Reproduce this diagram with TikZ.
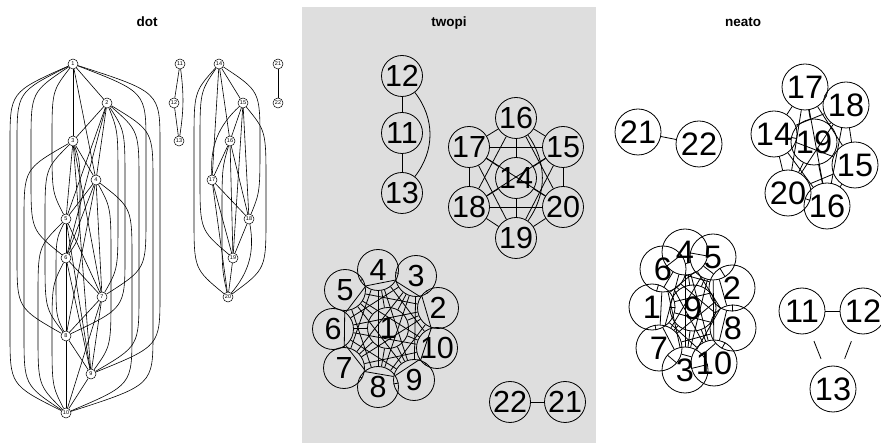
\documentclass[tikz,border=0pt]{standalone}
\usepackage{fontspec}
\setmainfont{Liberation Sans}
\usetikzlibrary{calc}
\definecolor{panelgray}{RGB}{222,222,222}
\pgfdeclarelayer{bg}
\pgfdeclarelayer{edges}
\pgfsetlayers{bg,edges,main}
\begin{document}
\begin{tikzpicture}[x=1pt,y=-1pt,
  dotn/.style={circle,draw,line width=0.5pt,minimum size=10pt,inner sep=0pt,fill=white,font=\fontsize{5.5}{6}\selectfont},
  twon/.style={circle,draw,line width=0.8pt,minimum size=41pt,inner sep=0pt,font=\fontsize{30.5}{30}\selectfont},
  neon/.style={circle,draw,line width=0.8pt,minimum size=46pt,inner sep=0pt,font=\fontsize{32.5}{32}\selectfont},
  dotedge/.style={line width=0.6pt},
  netedge/.style={line width=0.8pt},
  ttl/.style={font=\bfseries\fontsize{13.5}{14}\selectfont,anchor=base}]
\useasboundingbox (0,0) rectangle (881,443);
\begin{pgfonlayer}{bg}
  \fill[panelgray] (302,7) rectangle (596,443);
\end{pgfonlayer}

% titles
\node[ttl] (tdot) at (147,27) {dot};
\node[ttl] (ttwopi) at (449,27) {twopi};
\node[ttl] (tneato) at (743,27) {neato};

% ---------------- dot ----------------
\foreach \n/\x/\y in {1/73/64,2/107/103,3/73/141,4/96/180,5/66/219,6/66/258,7/102/297,8/66/336,9/91/374,10/66/413,
  11/180/64,12/174/103,13/179/141,
  14/219/64,15/243/103,16/230/141,17/212/180,18/249/219,19/233/258,20/228/297,
  21/278/64,22/278/103}
  \node[dotn] (d\n) at (\x,\y) {\n};

\begin{pgfonlayer}{edges}
\foreach \a/\b in {1/2,2/3,3/4,4/5,5/6,6/7,7/8,8/9,9/10,1/3,2/4,3/5,4/6,5/7,6/8,7/9,8/10,
  1/4,2/5,4/7,6/9,7/10,2/6,3/7,4/8,5/9,3/9,
  14/15,15/16,16/17,17/18,18/19,19/20,14/16,16/18,17/19,14/17,15/18,16/19,17/20,15/19,
  11/12,12/13,21/22}
  \draw[dotedge] (d\a) -- (d\b);
\draw[dotedge] (d15) to[bend right=25] (d17);
\draw[dotedge] (d18) to[bend left=25] (d20);
\draw[dotedge] (d11) to[bend left=8] (d13);
\foreach \a/\b/\L in {3/6/80,5/8/56,1/5/52,6/10/52,1/6/31,2/7/118,3/8/45,4/9/111,5/10/38,
  1/7/146,2/8/125,4/10/132,1/8/17,2/9/139,3/10/24,1/9/160,2/10/153,1/10/10,
  14/18/260,16/20/222,14/19/200,15/20/266,14/20/194}
  \draw[dotedge] let \p1=(d\a), \p2=(d\b), \n1={min(80,(\y1-(\y2))/2)} in
    (d\a) .. controls (\L pt,\y1-0.35*\n1) .. (\L pt,\y1-\n1) -- (\L pt,\y2+\n1)
    .. controls (\L pt,\y2+0.35*\n1) .. (d\b);
\end{pgfonlayer}

% ---------------- twopi ----------------
\foreach \n/\x/\y in {1/388/328,2/438/308,3/416/276,4/378/270,5/345/290,6/333/329,7/344/368,8/378/387,9/414/380,10/437/348,
  12/402/76,11/402/133,13/402/193,
  16/516/118,17/469/147,15/563/147,14/516/178,18/469/207,20/563/207,19/516/238,
  22/510/402,21/565/402}
  \node[twon] (t\n) at (\x,\y) {\n};

\begin{pgfonlayer}{edges}
\foreach \i [evaluate=\i as \k using int(\i+1)] in {1,...,9}
  \foreach \j in {\k,...,10}
    \draw[netedge] (t\i) -- (t\j);
\foreach \a/\b in {14/15,14/16,14/17,14/18,14/19,14/20,15/16,15/17,15/18,15/20,16/17,16/18,16/20,17/18,17/19,17/20,18/19,18/20,19/20,15/19}
  \draw[netedge] (t\a) -- (t\b);
\draw[netedge] (t16) to[bend left=35] (t19);
\draw[netedge] (t12) -- (t11);
\draw[netedge] (t11) -- (t13);
\draw[netedge] (t12) to[bend left=38] (t13);
\draw[netedge] (t22) -- (t21);
\end{pgfonlayer}

% ---------------- neato ----------------
\foreach \n/\x/\y in {4/685/252,5/713/257,6/663/269,2/732/288,1/652/307,9/693/308,8/733/328,7/659/348,3/685/370,10/714/363,
  11/802/311,12/863/311,13/833/389,
  17/805/87,18/846/105,14/774/134,19/814/142,15/855/165,20/788/193,16/827/206,
  21/638/132,22/699/144}
  \node[neon] (e\n) at (\x,\y) {\n};

\begin{pgfonlayer}{edges}
\foreach \i [evaluate=\i as \k using int(\i+1)] in {1,...,9}
  \foreach \j in {\k,...,10}
    \draw[netedge] (e\i) -- (e\j);
\foreach \i [evaluate=\i as \k using int(\i+1)] in {14,...,19}
  \foreach \j in {\k,...,20}
    \draw[netedge] (e\i) -- (e\j);
\draw[netedge] (e21) -- (e22);
\draw[netedge] (e11) -- (e12);
\draw[netedge,shorten <=9pt,shorten >=9pt] (e11) -- (e13);
\draw[netedge,shorten <=9pt,shorten >=9pt] (e12) -- (e13);
\end{pgfonlayer}
\end{tikzpicture}
\end{document}
